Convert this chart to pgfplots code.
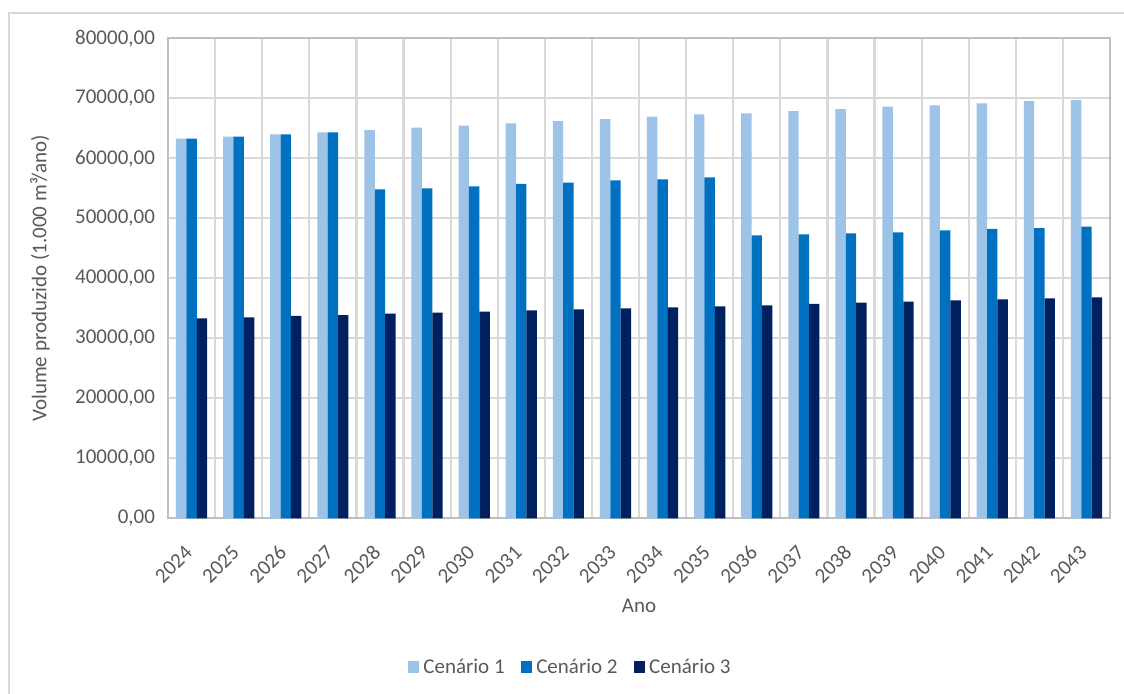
\documentclass[border=0pt]{standalone}
\usepackage{fontspec}
\setmainfont{Carlito}
\usepackage{pgfplots}
\usepackage{pgfplotstable}
\pgfplotsset{compat=1.18}
\definecolor{cA}{HTML}{9DC3E6}
\definecolor{cB}{HTML}{0070C0}
\definecolor{cC}{HTML}{002060}
\definecolor{gridc}{HTML}{D9D9D9}
\definecolor{axc}{HTML}{BFBFBF}
\definecolor{txt}{HTML}{595959}
\pgfplotsset{ybar legend/.style={legend image code/.code={\fill[##1,draw=none] (0pt,-2.9pt) rectangle (5.8pt,2.9pt);}}}

\pgfplotstableread{
x  c1     c2     c3
0  63270  63270  33330
1  63600  63600  33500
2  64000  64000  33720
3  64330  64330  33880
4  64720  54830  34100
5  65100  55000  34270
6  65430  55330  34430
7  65830  55720  34670
8  66220  55930  34830
9  66550  56330  35000
10 66930  56500  35170
11 67330  56830  35330
12 67500  47170  35500
13 67880  47330  35720
14 68220  47500  35930
15 68600  47670  36100
16 68830  48000  36330
17 69170  48220  36500
18 69550  48380  36670
19 69720  48600  36830
}\data

\begin{document}
\begin{tikzpicture}
\useasboundingbox (0pt,0pt) rectangle (562pt,346.5pt);
\draw[gridc, line width=1pt] (4.5pt,-1pt) -- (4.5pt,340.25pt) -- (563pt,340.25pt);
\begin{axis}[
  at={(84pt,87.35pt)}, anchor=south west,
  scale only axis, width=471pt, height=240pt,
  ybar=0pt, bar width=5.2pt,
  xmin=-0.5, xmax=19.5,
  ymin=0, ymax=80000, ytick distance=10000,
  scaled y ticks=false,
  xtick={0,...,19},
  xticklabels={2024,2025,2026,2027,2028,2029,2030,2031,2032,2033,2034,2035,2036,2037,2038,2039,2040,2041,2042,2043},
  minor xtick={-0.5,0.5,...,19.5},
  xmajorgrids=false, xminorgrids=true, ymajorgrids=true,
  grid style={gridc, line width=1.1pt},
  minor grid style={gridc, line width=1.1pt},
  major tick length=0pt, minor tick length=0pt,
  axis line style={axc, line width=1pt},
  /pgf/number format/fixed,
  /pgf/number format/fixed zerofill,
  /pgf/number format/precision=2,
  /pgf/number format/use comma,
  /pgf/number format/1000 sep={},
  /pgf/number format/assume math mode=true,
  yticklabel style={xshift=-3pt},
  every tick label/.append style={font=\fontsize{10.5}{12}\selectfont, text=txt},
  xticklabel style={yshift=-13pt, xshift=1pt, anchor=east, rotate=45},
  ylabel={Volume produzido (1.000 m³/ano)},
  ylabel style={at={(axis description cs:-0.1359,0.5)}, anchor=center, font=\fontsize{10.5}{12}\selectfont, text=txt},
  xlabel={Ano},
  xlabel style={at={(axis description cs:0.5,0)}, anchor=center, yshift=-44pt, font=\fontsize{10.5}{12}\selectfont, text=txt},
  legend style={at={(axis description cs:0.428,-0.3104)}, anchor=center, draw=none, fill=none,
    legend columns=3, font=\fontsize{10.5}{12}\selectfont, text=txt,
    /tikz/every even column/.append style={column sep=6pt}},
  legend cell align=left,
]
\addplot[fill=cA, draw=none] table[x=x, y=c1] {\data};
\addplot[fill=cB, draw=none] table[x=x, y=c2] {\data};
\addplot[fill=cC, draw=none] table[x=x, y=c3] {\data};
\legend{Cenário 1, Cenário 2, Cenário 3}
\end{axis}
\end{tikzpicture}
\end{document}
